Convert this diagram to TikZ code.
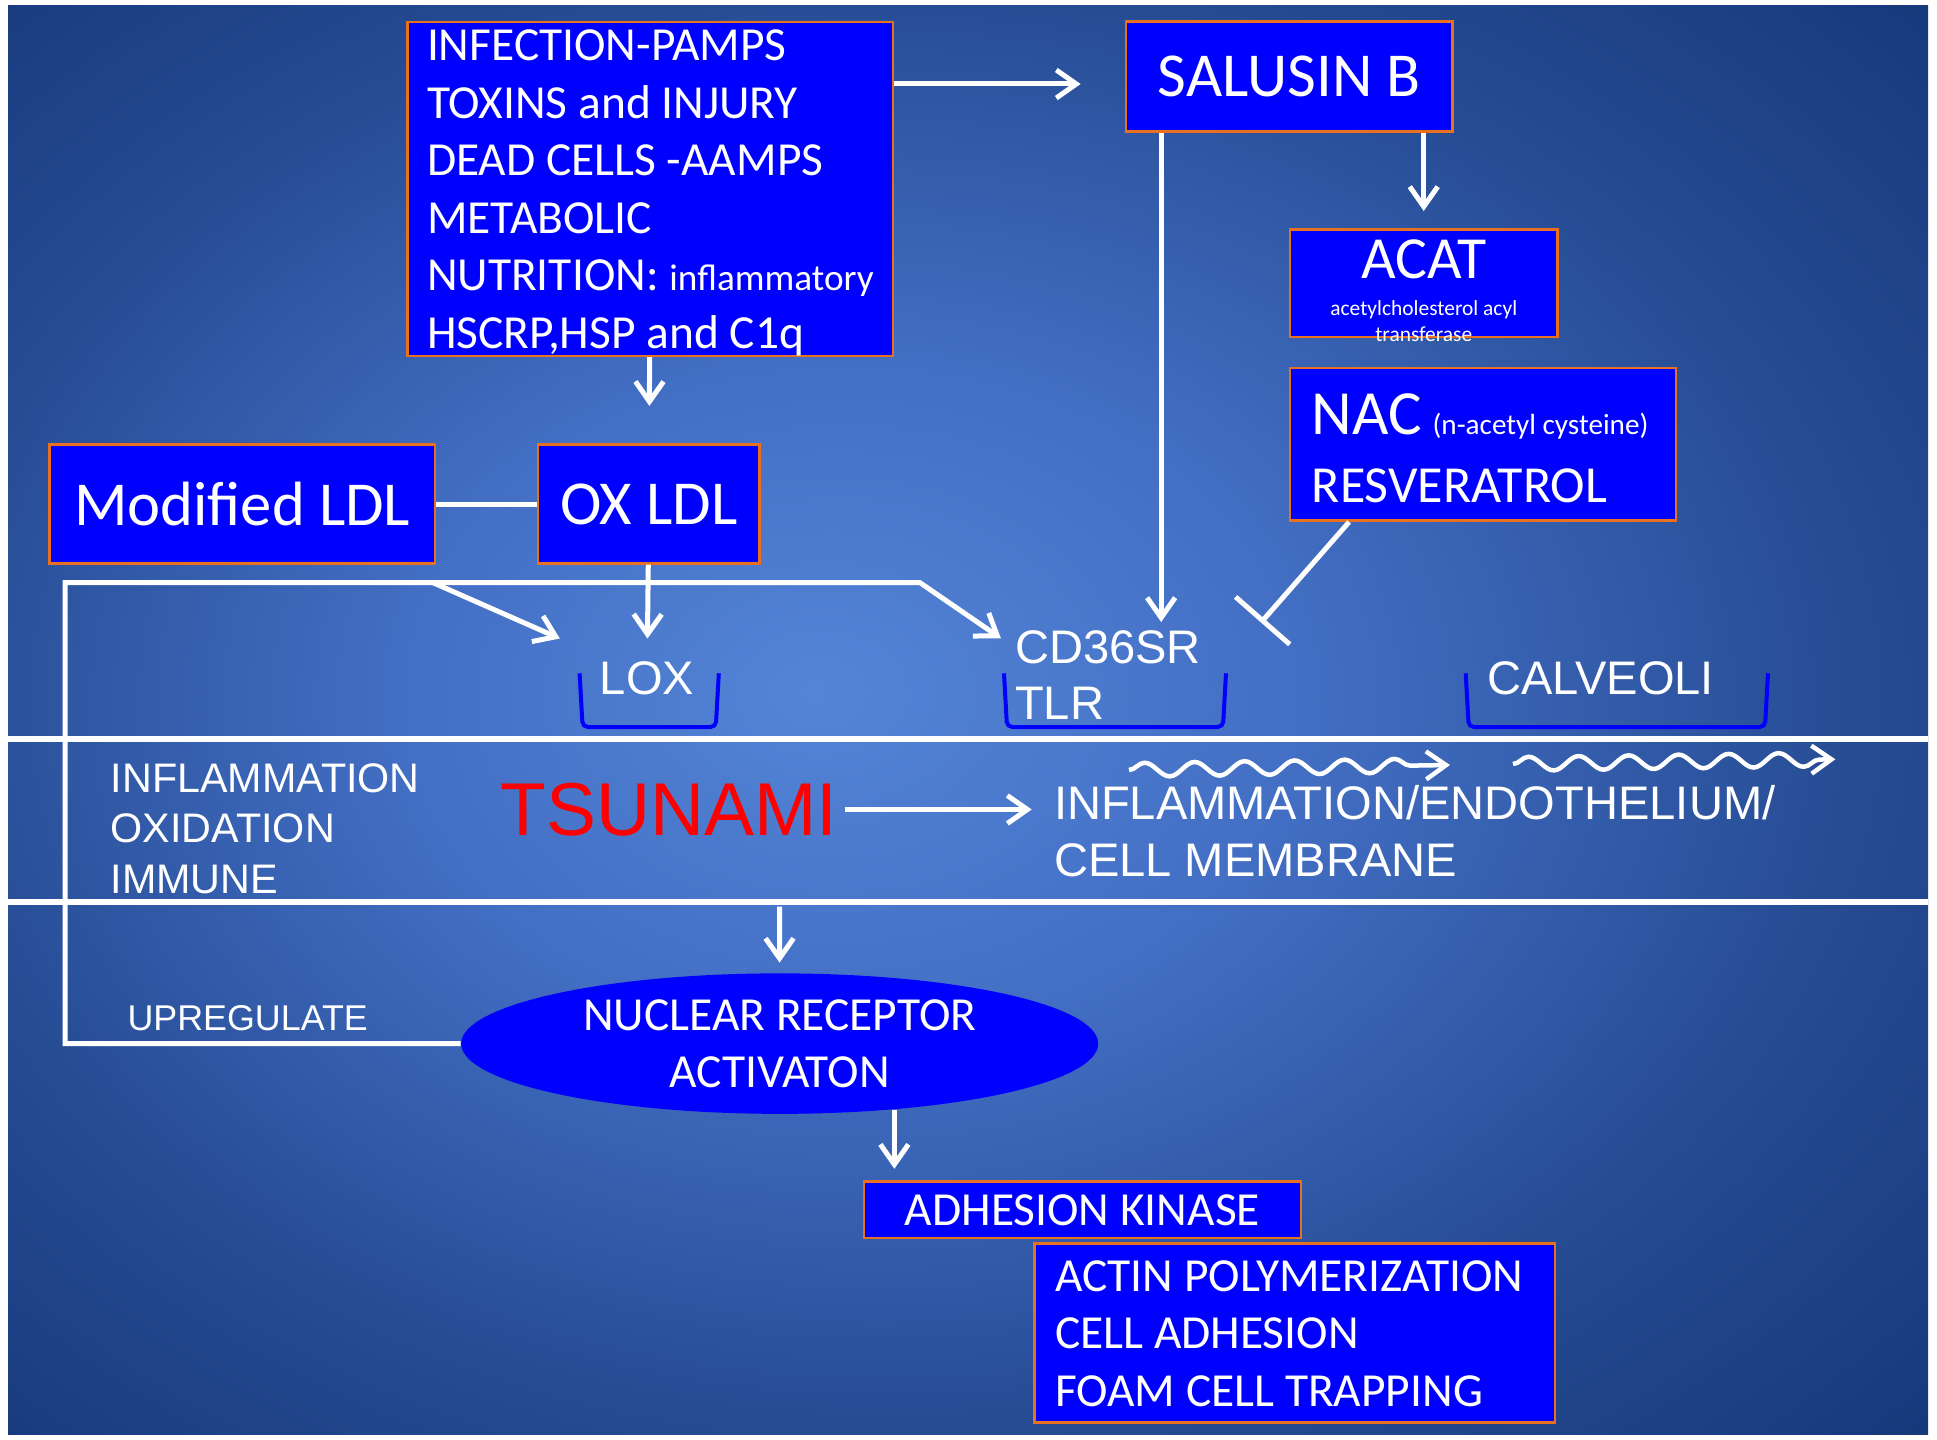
\documentclass[tikz,border=0pt]{standalone}
\usepackage{fontspec}
\setmainfont{Carlito}
\newfontfamily\labelfont{Liberation Sans}
\usetikzlibrary{shapes.geometric,arrows.meta,positioning,calc,decorations.pathmorphing}
\definecolor{BoxBlue}{RGB}{0,0,255}
\definecolor{BoxEdge}{RGB}{232,112,32}
\definecolor{TsuRed}{RGB}{255,0,0}
\definecolor{BgLight}{RGB}{84,133,215}
\definecolor{BgMid}{RGB}{66,110,195}
\definecolor{BgDark}{RGB}{38,76,148}
\definecolor{BgDeep}{RGB}{24,56,124}
\pgfdeclareradialshading{slidebg}{\pgfpoint{-4bp}{1bp}}{%
  color(0bp)=(BgLight); color(12bp)=(BgMid); color(25bp)=(BgDark);
  color(36bp)=(BgDeep); color(50bp)=(BgDeep)}

\begin{document}
\begin{tikzpicture}[
  box/.style={draw=BoxEdge,line width=0.025cm,fill=BoxBlue,text=white,inner sep=0pt},
  big/.style={font=\fontsize{17.8}{21}\selectfont},
  body/.style={font=\fontsize{13.5}{16.35}\selectfont},
  lbl/.style={text=white,inner sep=0.05cm,font=\labelfont\fontsize{13.4}{16}\selectfont},
  arr/.style={white,line width=0.05cm,-{Straight Barb[length=0.2cm,width=0.28cm]}},
  link/.style={white,line width=0.05cm},
  cup/.style={BoxBlue,line width=0.04cm,rounded corners=1.5pt},
  sep/.style={white,line width=0.06cm},
  wave/.style={white,line width=0.045cm,decorate,
               decoration={snake,amplitude=0.07cm,segment length=0.5cm,post length=0.15cm},
               -{Straight Barb[length=0.2cm,width=0.28cm]}},
]
% slide background
\useasboundingbox (0,0) rectangle (19.37,14.39);
\fill[white] (0,0) rectangle (19.37,14.39);
\shade[shading=slidebg] (0.08,0.05) rectangle (19.28,14.33);
% band separators
\foreach \y in {7.003,5.37}
  \draw[sep] (0.08,\y) -- (19.28,\y);
% membrane cups
\foreach \xa/\xb in {5.796/7.188,10.04/12.26,14.657/17.68}
  \draw[cup] (\xa,7.657) -- (\xa+0.03,7.12) -- (\xb-0.03,7.12) -- (\xb,7.657);

% triggers
\node[box,body,align=flush left,text width=4.467cm,inner xsep=0.194cm,
      text height=0.388cm,text depth=2.948cm] (infect) at (6.5035,12.50) {
  INFECTION-PAMPS\\
  TOXINS and INJURY\\
  DEAD CELLS -AAMPS\\
  METABOLIC\\
  \mbox{NUTRITION: {\fontsize{10.6}{16.35}\selectfont inflammatory}}\\
  \mbox{HSCRP,HSP and C1q}};
\node[box,big,minimum width=3.266cm,minimum height=1.10cm] (salusin) at (12.892,13.626) {SALUSIN B};
\node[box,body,align=flush center,text width=2.479cm,inner xsep=0.1cm,
      text height=0.493cm,text depth=0.582cm] (acat) at (14.2375,11.56) {
  {\fontsize{17}{20}\selectfont ACAT\par}\vspace{3.2pt}
  {\fontsize{6.1}{7.4}\selectfont acetylcholesterol acyl\\transferase\par}};
\node[box,body,align=flush left,text width=3.42cm,inner xsep=0.22cm,
      text height=0.665cm,text depth=0.862cm] (nac) at (14.828,9.947) {
  \mbox{{\fontsize{17.9}{21}\selectfont NAC} {\fontsize{8.3}{10}\selectfont (n-acetyl cysteine)}}\par
  {\fontsize{14.8}{19.35}\selectfont RESVERATROL\par}};
\node[box,big,minimum width=3.854cm,minimum height=1.187cm] (modldl) at (2.422,9.35) {Modified LDL};
\node[box,big,minimum width=2.215cm,minimum height=1.187cm] (oxldl) at (6.4895,9.35) {OX LDL};

% receptors
\node[lbl,inner sep=0.224cm] (lox) at (6.47,7.607) {LOX};
\node[lbl,anchor=north west,inner sep=0.08cm,align=left,
      font=\labelfont\fontsize{13.4}{15.9}\selectfont] (cd36) at (10.064,8.17) {CD36SR\\TLR};
\node[lbl] (calv) at (16.005,7.606) {CALVEOLI};

% middle band
\node[lbl,anchor=north west,align=left,
      font=\labelfont\fontsize{11.75}{14.37}\selectfont] (infl) at (1.05,6.813) {INFLAMMATION\\OXIDATION\\IMMUNE};
\node[text=TsuRed,inner sep=2pt,font=\labelfont\fontsize{21.3}{25}\selectfont] (tsunami) at (6.69,6.295) {TSUNAMI};
\node[lbl,anchor=north west,inner sep=0.06cm,align=left,
      font=\labelfont\fontsize{13.4}{16.1}\selectfont] (endo) at (10.473,6.60) {INFLAMMATION/ENDOTHELIUM/\\CELL MEMBRANE};

% lower part
\node[ellipse,fill=BoxBlue,text=white,minimum width=6.37cm,minimum height=1.405cm,
      inner sep=0pt,align=center,font=\fontsize{13.5}{16.2}\selectfont] (nuc) at (7.797,3.954) {NUCLEAR RECEPTOR\\ACTIVATON};
\node[lbl,anchor=base west,font=\labelfont\fontsize{10.2}{12}\selectfont] (upreg) at (1.218,4.09) {UPREGULATE};
\node[box,body,minimum width=4.372cm,minimum height=0.563cm] (adh) at (10.824,2.2915) {ADHESION KINASE};
\node[box,align=flush left,text width=4.797cm,inner xsep=0.203cm,text height=0.484cm,text depth=1.31cm,
      font=\fontsize{13.5}{16.27}\selectfont] (actin) at (12.9485,1.06) {
  \mbox{ACTIN POLYMERIZATION}\\
  CELL ADHESION\\
  \mbox{FOAM CELL TRAPPING}};

% connectors
\coordinate (loopL) at (0.65,8.563);
\coordinate (loopR) at (9.20,8.563);
\coordinate (branch) at (4.33,8.563);
\coordinate (block) at (12.61,8.165);
\coordinate (band) at (7.795,5.323);
\draw[arr,shorten >=0.44cm] ([yshift=-0.076cm]infect.east |- salusin.west) -- ([yshift=-0.076cm]salusin.west);
\draw[arr,shorten >=0.17cm] (salusin.south -| acat.north) -- (acat.north);
\draw[arr] ([xshift=0.365cm]salusin.south west) -- ([xshift=0.365cm]salusin.south west |- cd36.north);
\draw[link,-{Bar[width=0.72cm]}] ([xshift=0.606cm]nac.south west) -- (block);
\draw[arr,shorten >=0.375cm] (infect) -- (oxldl);
\draw[link] (modldl) -- (oxldl);
\draw[arr] (oxldl) -- (lox);
\draw[arr] (nuc.west) -| (loopL) -- (loopR) -- ([xshift=-0.055cm,yshift=-0.163cm]cd36.north west);
\draw[arr] (branch) -- ([xshift=-0.17cm]lox.north west);
\draw[arr,shorten >=0.156cm] (tsunami.east) -- (tsunami.east -| endo.west);
\draw[arr,shorten >=0.10cm] (band) -- (nuc);
\draw[arr,shorten >=0.117cm] (nuc.-30) -- (nuc.-30 |- adh.north);

% signal waves
\coordinate (w1a) at (11.29,6.69);
\coordinate (w1b) at (14.50,6.74);
\coordinate (w2a) at (15.13,6.75);
\coordinate (w2b) at (18.354,6.797);
\draw[wave] (w1a) -- (w1b);
\draw[wave] (w2a) -- (w2b);
\end{tikzpicture}
\end{document}
